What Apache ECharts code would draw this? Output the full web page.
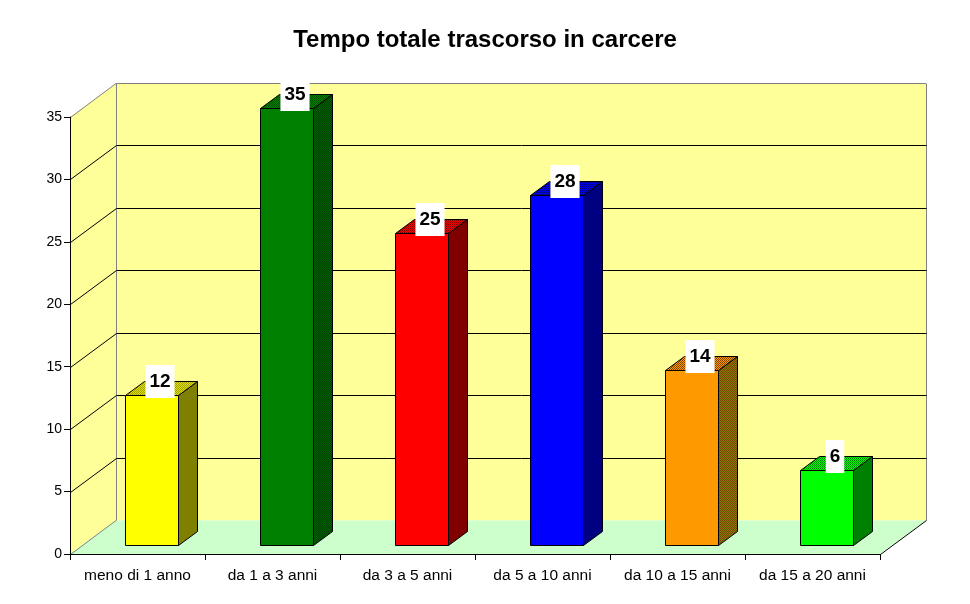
<!DOCTYPE html>
<html><head><meta charset="utf-8">
<style>html,body{margin:0;padding:0;background:#fff}#c{width:970px;height:604px}</style>
<script src="https://cdn.jsdelivr.net/npm/echarts@6/dist/echarts.min.js"></script>
</head><body><div id="c"></div>
<script>
const categories = ['meno di 1 anno','da 1 a 3 anni','da 3 a 5 anni','da 5 a 10 anni','da 10 a 15 anni','da 15 a 20 anni'];
const values = [12,35,25,28,14,6];
const yTicks = [0,5,10,15,20,25,30,35];
const faceColors = ['#ffff00','#008000','#ff0000','#0000ff','#ff9900','#00ff00'];
const sideColors = [['#808000','#808000'],['#004000','#006000'],['#800000','#800000'],['#000080','#000080'],['#808000','#804000'],['#008000','#008000']];
const topColors = [['#e0e000','#a0a000'],['#008000','#005000'],['#ff0000','#800000'],['#0000ff','#000080'],['#ff9900','#804000'],['#00ff00','#008000']];

function checker(a,b){
  const c=document.createElement('canvas');c.width=2;c.height=2;
  const g=c.getContext('2d');g.fillStyle=a;g.fillRect(0,0,2,2);
  g.fillStyle=b;g.fillRect(0,0,1,1);g.fillRect(1,1,1,1);
  return {image:c,repeat:'repeat'};
}
const DX=46, DY=34;       // wall depth
const BDX=19, BDY=14;     // bar depth
const LIFT=9, SHIFT=13.5, BW=53;

const chart=echarts.init(document.getElementById('c'),null,{renderer:'canvas',devicePixelRatio:1});

function renderWall(params,api){
  const t=api.value(1), cs=params.coordSys;
  const L=cs.x, R=cs.x+cs.width, B=cs.y+cs.height, y=Math.round(api.coord([0,t])[1])+.5;
  const kids=[];
  const gray='#808080', black='#000000';
  const line=(x1,y1,x2,y2,c)=>({type:'line',shape:{x1,y1,x2,y2},style:{stroke:c,lineWidth:1,fill:null}});
  if(t===0){
    const by=B+.5-DY, ty=cs.y+.5-DY;
    kids.push({type:'polygon',shape:{points:[[L,B],[L+DX,by],[L+DX,ty],[L,cs.y]]},style:{fill:'#ffff99'}});
    kids.push({type:'rect',shape:{x:L+DX,y:ty,width:R-L,height:by-ty},style:{fill:'#ffff99'}});
    kids.push({type:'polygon',shape:{points:[[L,B],[R,B],[R+DX,by],[L+DX,by]]},style:{fill:'#ccffcc'}});
    kids.push(line(L+DX+.5,ty,L+DX+.5,by,gray));
    kids.push(line(R+DX+.5,ty,R+DX+.5,by,gray));
    kids.push(line(L+DX,ty,R+DX,ty,gray));
    kids.push(line(L+.5,cs.y+.5,L+DX,ty,gray));
    kids.push(line(L+.5,B+.5,L+DX,by,gray));
    kids.push(line(R+.5,B+.5,R+DX+.5,by,black));
  } else if(t<35){
    kids.push(line(L+.5,y,L+DX+.5,y-DY,black));
    kids.push(line(L+DX+.5,y-DY,R+DX+.5,y-DY,black));
  }
  return {type:'group',children:kids};
}

function renderBar(params,api){
  const i=params.dataIndex, v=api.value(1);
  const x=Math.round(api.coord([i,0])[0]+SHIFT-BW/2)+.5;
  const yb=Math.round(api.coord([i,0])[1]-LIFT)+.5;
  const yt=Math.round(api.coord([i,v])[1]-LIFT)+.5;
  const x2=x+BW;
  const st={stroke:'#000',lineWidth:1,lineJoin:'miter'};
  return {type:'group',children:[
    {type:'polygon',shape:{points:[[x2,yb],[x2+BDX,yb-BDY],[x2+BDX,yt-BDY],[x2,yt]]},
      style:Object.assign({fill:checker(sideColors[i][0],sideColors[i][1])},st)},
    {type:'polygon',shape:{points:[[x,yt],[x+BDX,yt-BDY],[x2+BDX,yt-BDY],[x2,yt]]},
      style:Object.assign({fill:checker(topColors[i][0],topColors[i][1])},st)},
    {type:'rect',shape:{x:x,y:yt,width:BW,height:yb-yt},style:Object.assign({fill:faceColors[i]},st)},
    {type:'text',z2:10,style:{text:String(v),x:x+BW/2+8,y:yt+2.5,align:'center',verticalAlign:'bottom',
      font:'bold 19px "Liberation Sans"',fill:'#000',backgroundColor:'#fff',padding:[7,4,7,4],lineHeight:19}}
  ]};
}

chart.setOption({
  animation:false,
  backgroundColor:'#fff',
  title:{text:'Tempo totale trascorso in carcere',left:'center',top:23,
    textStyle:{fontFamily:'Liberation Sans',fontWeight:'bold',fontSize:24,color:'#000'}},
  grid:{left:70,right:90,top:117,bottom:50,containLabel:false},
  xAxis:{type:'category',data:categories,z:10,
    axisLine:{lineStyle:{color:'#000',width:1}},
    axisTick:{show:true,alignWithLabel:false,length:6,lineStyle:{color:'#000'}},
    axisLabel:{fontFamily:'Liberation Sans',fontSize:15.5,color:'#000',margin:14,interval:0},
    splitLine:{show:false}},
  yAxis:{type:'value',min:0,max:35,interval:5,z:10,
    axisLine:{show:true,lineStyle:{color:'#000',width:1}},
    axisTick:{show:true,length:6,lineStyle:{color:'#000'}},
    axisLabel:{fontFamily:'Liberation Sans',fontSize:14,color:'#000',margin:8,padding:[4,0,0,0]},
    splitLine:{show:false}},
  series:[
    {type:'custom',renderItem:renderWall,data:yTicks.map(t=>[0,t]),encode:{x:0,y:1},silent:true,z:1},
    {type:'custom',renderItem:renderBar,data:values.map((v,i)=>[i,v]),encode:{x:0,y:1},silent:true,z:2}
  ]
});
</script></body></html>
